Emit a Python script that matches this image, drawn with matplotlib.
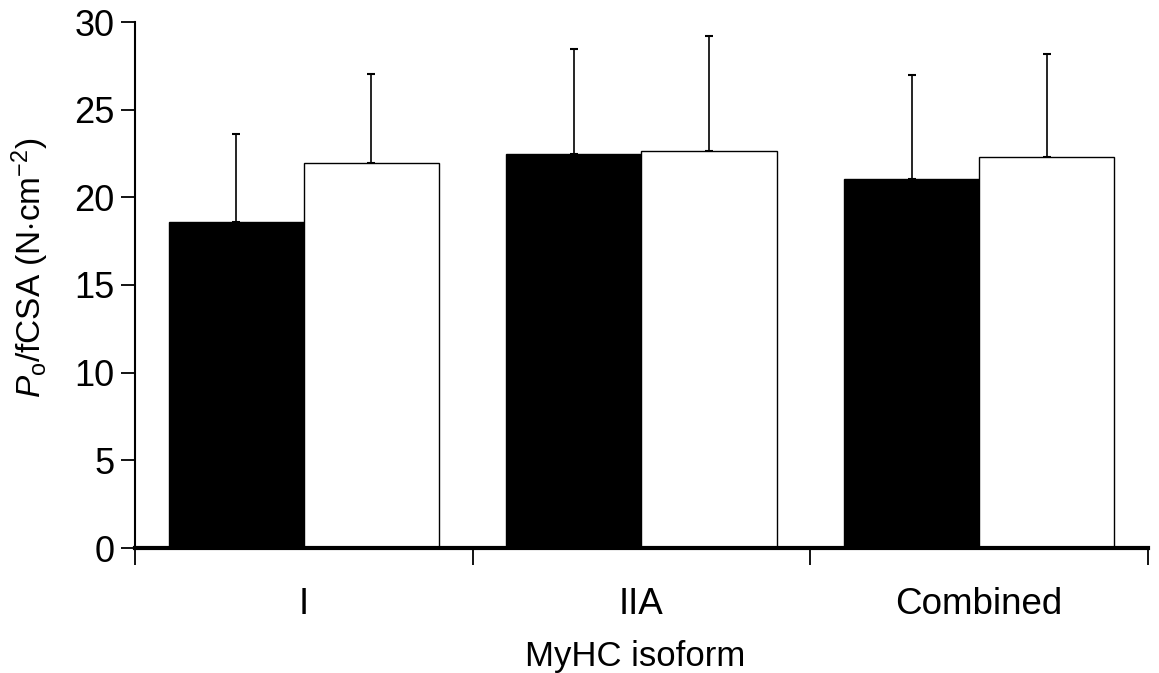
import matplotlib
matplotlib.use("Agg")
import matplotlib.pyplot as plt
import numpy as np

categories = ["I", "IIA", "Combined"]
black_means = [18.6, 22.47, 21.03]
black_err = [5.0, 6.0, 5.95]
white_means = [21.98, 22.63, 22.3]
white_err = [5.05, 6.55, 5.9]
yticks = [0, 5, 10, 15, 20, 25, 30]

plt.rcParams['font.family'] = ['Liberation Sans', 'DejaVu Sans']
plt.rcParams['mathtext.fontset'] = 'custom'
plt.rcParams['mathtext.rm'] = 'Liberation Sans'
plt.rcParams['mathtext.it'] = 'Liberation Sans:italic'

fig = plt.figure(figsize=(11.59, 6.73), dpi=100)
ax = fig.add_axes([135/1159, 1-548/673, (1148-135)/1159, (548-22)/673])

x = np.arange(len(categories))
w = 0.4
ax.bar(x - w/2, black_means, w, color='black', edgecolor='black', linewidth=1, zorder=2)
ax.bar(x + w/2, white_means, w, color='white', edgecolor='black', linewidth=1, zorder=2)
ax.errorbar(x - w/2, black_means, yerr=[np.zeros(3), black_err], fmt='none',
            ecolor='black', elinewidth=1.2, capsize=2.6, capthick=1.5, zorder=1)
ax.errorbar(x + w/2, white_means, yerr=[np.zeros(3), white_err], fmt='none',
            ecolor='black', elinewidth=1.2, capsize=2.6, capthick=1.5, zorder=1)

ax.set_xlim(-0.5, 2.5)
ax.set_ylim(0, 30)
ax.set_yticks(yticks)
ax.set_yticklabels([str(t) for t in yticks], fontsize=26)
ax.set_xticks([-0.5, 0.5, 1.5, 2.5])
ax.set_xticklabels([])
ax.tick_params(axis='x', direction='out', length=12, width=1.3)
ax.tick_params(axis='y', direction='out', length=10, width=1.3, pad=5)
for i, c in enumerate(categories):
    ax.text(x[i], -3.25, c, ha='center', va='center', fontsize=26.5)
ax.text(0.98, -6.2, "MyHC isoform", ha='center', va='center', fontsize=25)

for s in ['top', 'right']:
    ax.spines[s].set_visible(False)
ax.spines['left'].set_linewidth(1.5)
ax.spines['bottom'].set_linewidth(3)

ax.set_ylabel(r"$\mathit{P}_{\mathrm{o}}$/fCSA (N$\cdot$cm$^{-2}$)", fontsize=24)
ax.yaxis.set_label_coords(-84/1013, (548-268)/526)

fig.savefig("out.png", dpi=100)
